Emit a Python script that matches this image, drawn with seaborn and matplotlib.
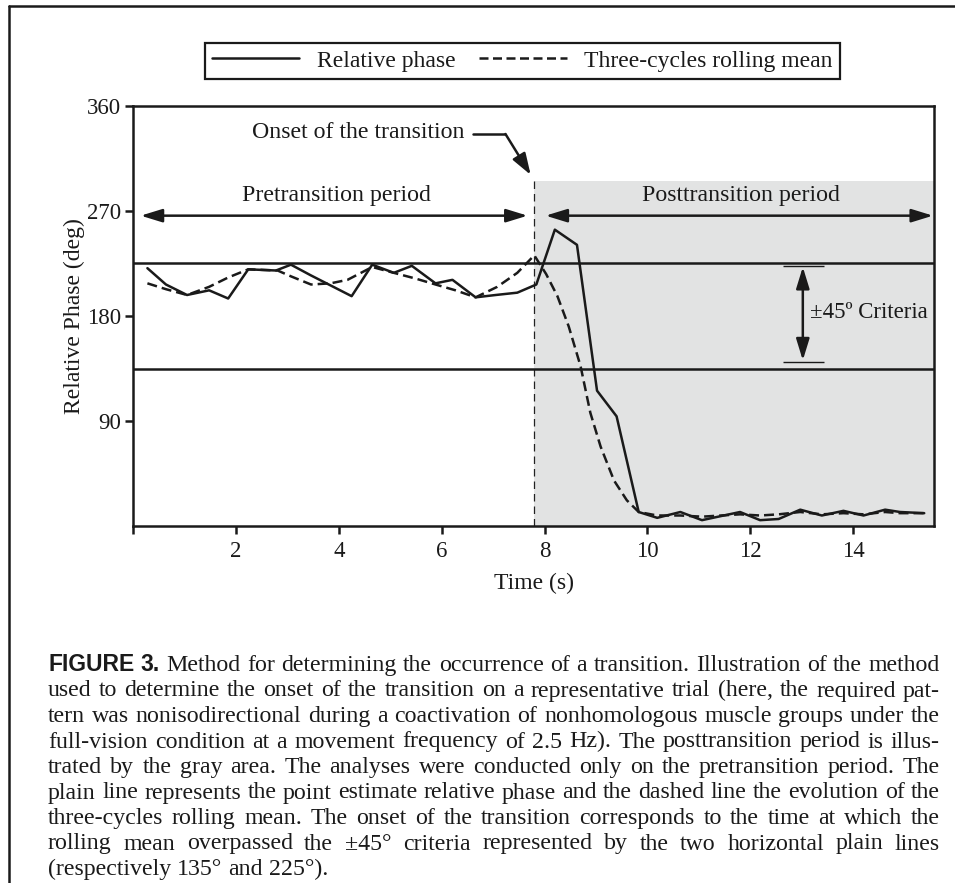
import matplotlib
matplotlib.use("Agg")
import matplotlib.pyplot as plt
import seaborn as sns
import pandas as pd
from matplotlib.lines import Line2D

# ---------------- data ----------------
time_phase = [0.28, 0.64, 1.05, 1.48, 1.85, 2.24, 2.78, 3.07, 3.45, 3.85, 4.25, 4.65, 5.07, 5.42,
              5.88, 6.21, 6.66, 7.05, 7.47, 7.84, 8.20, 8.63, 9.02, 9.40, 9.83, 10.19, 10.64,
              11.06, 11.43, 11.80, 12.19, 12.55, 12.97, 13.39, 13.81, 14.20, 14.62, 14.91, 15.38]
rel_phase = [221, 207, 198, 202, 195, 220, 219, 224, 215, 206, 197, 224, 217, 223,
             208, 211, 196, 198, 200, 207, 254, 241, 116, 94, 12, 7, 12,
             5, 8.5, 12, 5, 6, 14, 9, 13, 9, 14, 12, 11]

time_mean = [0.28, 0.64, 1.05, 1.48, 1.85, 2.24, 2.81, 3.07, 3.46, 3.84, 4.17, 4.65, 5.07, 5.50,
             5.88, 6.27, 6.66, 7.08, 7.47, 7.80, 8.03, 8.25, 8.47, 8.70, 8.89, 9.09, 9.35, 9.60,
             9.83, 10.19, 10.64, 11.06, 11.43, 11.80, 12.19, 12.55, 12.97, 13.39, 13.81, 14.20,
             14.62, 14.91, 15.38]
roll_mean = [208, 203, 198, 205, 213, 220, 219, 214, 207, 208, 211, 222, 217, 212,
             207, 202, 196, 205, 217, 232, 216, 197, 171, 137, 97, 68, 39, 22,
             12, 9, 9, 8, 9, 10, 9, 10, 12, 10, 11, 10,
             12, 11, 11]

legend_labels = ["Relative phase", "Three-cycles rolling mean"]
onset_time = 7.8
criteria = [135, 225]
gray_top = 296
x_ticks = [0, 2, 4, 6, 8, 10, 12, 14]
x_ticklabels = ["", "2", "4", "6", "8", "10", "12", "14"]
y_ticks = [90, 180, 270, 360]
y_ticklabels = ["90", "180", "270", "360"]

caption_lines = [
    "FIGURE 3. Method for determining the occurrence of a transition. Illustration of the method",
    "used to determine the onset of the transition on a representative trial (here, the required pat-",
    "tern was nonisodirectional during a coactivation of nonhomologous muscle groups under the",
    "full-vision condition at a movement frequency of 2.5 Hz). The posttransition period is illus-",
    "trated by the gray area. The analyses were conducted only on the pretransition period. The",
    "plain line represents the point estimate relative phase and the dashed line the evolution of the",
    "three-cycles rolling mean. The onset of the transition corresponds to the time at which the",
    "rolling mean overpassed the \u00b145\u00b0 criteria represented by the two horizontal plain lines",
    "(respectively 135\u00b0 and 225\u00b0).",
]

# ---------------- style ----------------
sns.set_style("ticks")
SERIF = ["Liberation Serif", "DejaVu Serif"]
plt.rcParams["font.family"] = SERIF
plt.rcParams["axes.linewidth"] = 1.8
FS = 16.5      # ticks, axis labels, legend
AFS = 17.2     # annotations inside the plot
INK = "#1a1a1a"

W, H = 955, 883
fig = plt.figure(figsize=(W / 100, H / 100), dpi=100)
ax = fig.add_axes([133 / W, 1 - 526 / H, (934 - 133) / W, (526 - 106) / H])

df_phase = pd.DataFrame({"t": time_phase, "v": rel_phase})
df_mean = pd.DataFrame({"t": time_mean, "v": roll_mean})

# gray posttransition area
ax.axvspan(onset_time, 15.57, ymin=0, ymax=gray_top / 360, color="#e2e3e3", lw=0, zorder=0)
ax.vlines(onset_time, 0, gray_top, colors="#222222", linestyles=(0, (6, 4)), lw=0.9, zorder=1)
ax.hlines(criteria, 0, 15.57, colors=INK, lw=1.8, zorder=2)

sns.lineplot(data=df_phase, x="t", y="v", ax=ax, color=INK, lw=1.8, errorbar=None, zorder=3)
sns.lineplot(data=df_mean, x="t", y="v", ax=ax, color=INK, lw=1.8, errorbar=None, zorder=3)
ax.lines[-1].set_linestyle((0, (4, 2)))

ax.set_xlim(0, 15.57)
ax.set_ylim(0, 360)
ax.set_xticks(x_ticks)
ax.set_xticklabels(x_ticklabels)
ax.set_yticks(y_ticks)
ax.set_yticklabels(y_ticklabels)
ax.tick_params(direction="out", length=5.5, width=1.8, labelsize=FS, color=INK, labelcolor=INK)
ax.tick_params(axis="x", pad=5)
ax.tick_params(axis="y", pad=3)
for s in ax.spines.values():
    s.set_visible(True)
    s.set_color(INK)
ax.set_xlabel("Time (s)", fontsize=FS + 0.5, color=INK)
ax.set_ylabel("Relative Phase (deg)", fontsize=FS + 0.5, color=INK)
ax.xaxis.set_label_coords(0.5, -0.112)
ax.yaxis.set_label_coords(-0.06, 0.5)

# double arrows
arrow_kw = dict(arrowstyle="<|-|>,head_length=0.65,head_width=0.2", lw=1.8, color=INK,
                shrinkA=0, shrinkB=0, mutation_scale=20)
ax.annotate("", xy=(0.15, 266), xytext=(7.67, 266), arrowprops=arrow_kw)
ax.annotate("", xy=(8.02, 266), xytext=(15.55, 266), arrowprops=arrow_kw)
ax.text(3.95, 278.5, "Pretransition period", ha="center", va="baseline", fontsize=AFS, color=INK)
ax.text(11.81, 278.5, "Posttransition period", ha="center", va="baseline", fontsize=AFS, color=INK)

# onset annotation
ax.plot([6.6, 7.24], [336, 336], color=INK, lw=1.8)
ax.annotate("", xy=(7.73, 301), xytext=(7.24, 336),
            arrowprops=dict(arrowstyle="-|>,head_length=0.65,head_width=0.22", lw=1.8,
                            color=INK, shrinkA=0, shrinkB=0, mutation_scale=20))
ax.text(6.45, 332.3, "Onset of the transition", ha="right", va="baseline", fontsize=AFS, color=INK)

# criteria annotation
ax.hlines([223, 141], 12.64, 13.44, colors=INK, lw=1.0)
ax.annotate("", xy=(13.02, 222), xytext=(13.02, 142), arrowprops=arrow_kw)
ax.text(13.15, 178, "\u00b145\u00ba Criteria", ha="left", va="baseline", fontsize=16.5, color=INK)

# legend
handles = [Line2D([], [], color=INK, lw=1.8),
           Line2D([], [], color=INK, lw=1.8, linestyle=(0, (3.6, 1.8)))]
leg = fig.legend(handles, legend_labels, loc="center", bbox_to_anchor=(522.5 / W, 1 - 61 / H),
                 ncol=2, frameon=True, fancybox=False, edgecolor=INK, framealpha=1,
                 handlelength=3.7, handletextpad=0.75, columnspacing=1.0, borderpad=0.3,
                 fontsize=FS + 0.5)
leg.get_frame().set_linewidth(1.6)
for t in leg.get_texts():
    t.set_color(INK)

# outer frame (top and left)
fig.add_artist(Line2D([9 / W, 1], [1 - 6 / H, 1 - 6 / H], transform=fig.transFigure,
                      color=INK, lw=1.8))
fig.add_artist(Line2D([9 / W, 9 / W], [0, 1 - 6 / H], transform=fig.transFigure,
                      color=INK, lw=1.8))

# caption, justified
renderer = fig.canvas.get_renderer()
CAP_FS = 17.2
serif_kw = dict(fontsize=CAP_FS, family=SERIF, color=INK)
bold_kw = dict(fontsize=CAP_FS - 0.7, family=["Liberation Sans", "DejaVu Sans"], weight="bold",
               color=INK)


def text_w(s, kw):
    t = fig.text(0, 0, s, **kw)
    w = t.get_window_extent(renderer).width
    t.remove()
    return w


space_w = text_w("a a", serif_kw) - text_w("aa", serif_kw)
left_px, right_px = 48, 940
base0, step = 671, 25.5
for i, line in enumerate(caption_lines):
    words = line.split(" ")
    styles = [bold_kw if (i == 0 and j < 2) else serif_kw for j in range(len(words))]
    widths = [text_w(w, k) for w, k in zip(words, styles)]
    if i < len(caption_lines) - 1:
        gap = (right_px - left_px - sum(widths)) / (len(words) - 1)
    else:
        gap = space_w
    x = left_px
    y = base0 + i * step
    for w, k, wd in zip(words, styles, widths):
        fig.text(x / W, 1 - y / H, w, ha="left", va="baseline", **k)
        x += wd + gap

fig.savefig("out.png", dpi=100)
